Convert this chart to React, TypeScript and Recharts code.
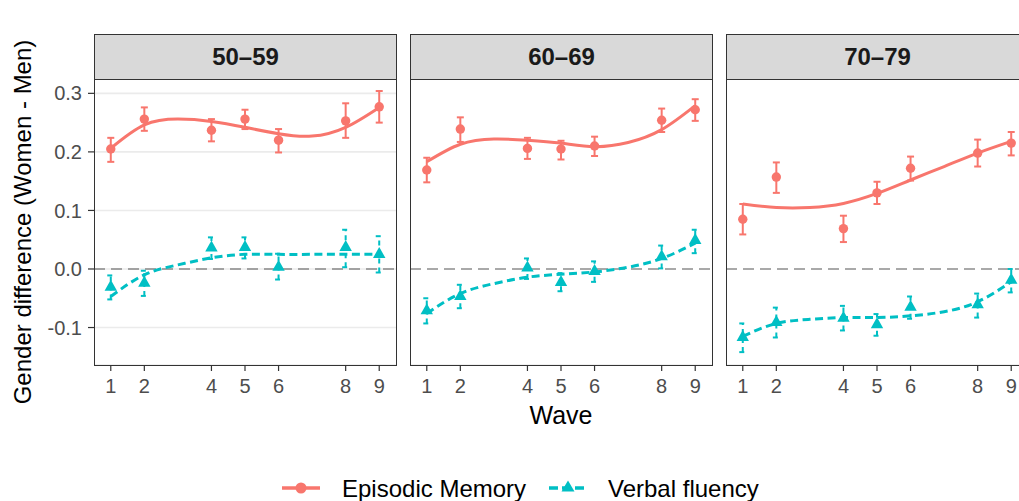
import React from "react";
import {
  ComposedChart,
  Line,
  Scatter,
  ErrorBar,
  XAxis,
  YAxis,
  CartesianGrid,
  ReferenceLine,
} from "recharts";

// ---------- data ----------
const panelLabels = ["50–59", "60–69", "70–79"];
const waves = [1, 2, 4, 5, 6, 8, 9];
const fitWaves = [1, 2, 3, 4, 5, 6, 7, 8, 9];
const yTicks = [-0.1, 0, 0.1, 0.2, 0.3];
const xTicks = [1, 2, 4, 5, 6, 8, 9];

// Episodic Memory, observed estimates and 95% bounds
const em5059 = [0.205, 0.256, 0.237, 0.256, 0.220, 0.253, 0.277];
const em5059Lo = [0.183, 0.236, 0.218, 0.239, 0.199, 0.224, 0.250];
const em5059Hi = [0.224, 0.276, 0.256, 0.272, 0.239, 0.283, 0.304];
const em6069 = [0.169, 0.239, 0.206, 0.205, 0.210, 0.254, 0.272];
const em6069Lo = [0.148, 0.217, 0.188, 0.187, 0.193, 0.234, 0.253];
const em6069Hi = [0.190, 0.259, 0.224, 0.219, 0.226, 0.274, 0.290];
const em7079 = [0.085, 0.157, 0.069, 0.130, 0.172, 0.198, 0.215];
const em7079Lo = [0.059, 0.130, 0.046, 0.111, 0.151, 0.175, 0.194];
const em7079Hi = [0.111, 0.182, 0.091, 0.149, 0.192, 0.221, 0.234];

// Verbal fluency, observed estimates and 95% bounds
const vf5059 = [-0.030, -0.023, 0.037, 0.038, 0.004, 0.038, 0.026];
const vf5059Lo = [-0.052, -0.046, 0.017, 0.018, -0.018, 0.003, -0.006];
const vf5059Hi = [-0.011, -0.003, 0.054, 0.054, 0.026, 0.067, 0.056];
const vf6069 = [-0.070, -0.046, 0.003, -0.022, -0.003, 0.022, 0.050];
const vf6069Lo = [-0.093, -0.067, -0.017, -0.038, -0.022, 0.001, 0.027];
const vf6069Hi = [-0.050, -0.027, 0.018, -0.007, 0.013, 0.040, 0.067];
const vf7079 = [-0.116, -0.090, -0.083, -0.094, -0.064, -0.060, -0.018];
const vf7079Lo = [-0.142, -0.117, -0.105, -0.114, -0.085, -0.083, -0.040];
const vf7079Hi = [-0.093, -0.066, -0.063, -0.077, -0.047, -0.042, 0.000];

// Smoothed trends (read at each wave)
const em5059Fit = [0.206, 0.246, 0.256, 0.252, 0.242, 0.231, 0.227, 0.242, 0.276];
const em6069Fit = [0.183, 0.213, 0.222, 0.220, 0.215, 0.209, 0.216, 0.238, 0.279];
const em7079Fit = [0.111, 0.105, 0.105, 0.112, 0.129, 0.152, 0.175, 0.198, 0.218];
const vf5059Fit = [-0.047, -0.010, 0.007, 0.019, 0.025, 0.025, 0.025, 0.025, 0.025];
const vf6069Fit = [-0.076, -0.042, -0.025, -0.014, -0.009, -0.005, 0.003, 0.018, 0.044];
const vf7079Fit = [-0.115, -0.093, -0.086, -0.083, -0.083, -0.080, -0.073, -0.056, -0.022];

// ---------- helpers ----------
const EM_COLOR = "#F8766D";
const VF_COLOR = "#00BFC4";
const FONT = "'Liberation Sans', Arial, Helvetica, sans-serif";

const fitRows = (emFit: number[], vfFit: number[]) =>
  fitWaves.map((w, i) => ({ wave: w, emFit: emFit[i], vfFit: vfFit[i] }));

const obsRows = (vals: number[], lo: number[], hi: number[]) =>
  waves.map((w, i) => ({
    wave: w,
    y: vals[i],
    err: [vals[i] - lo[i], hi[i] - vals[i]],
  }));

const panels = [
  {
    label: panelLabels[0],
    fit: fitRows(em5059Fit, vf5059Fit),
    em: obsRows(em5059, em5059Lo, em5059Hi),
    vf: obsRows(vf5059, vf5059Lo, vf5059Hi),
  },
  {
    label: panelLabels[1],
    fit: fitRows(em6069Fit, vf6069Fit),
    em: obsRows(em6069, em6069Lo, em6069Hi),
    vf: obsRows(vf6069, vf6069Lo, vf6069Hi),
  },
  {
    label: panelLabels[2],
    fit: fitRows(em7079Fit, vf7079Fit),
    em: obsRows(em7079, em7079Lo, em7079Hi),
    vf: obsRows(vf7079, vf7079Lo, vf7079Hi),
  },
];

const PLOT_TOP = 79;
const PLOT_BOTTOM = 365;
const CHART_H = 440;
const Y_DOMAIN: [number, number] = [-0.164, 0.3245];
const X_DOMAIN: [number, number] = [0.5, 9.5];

const Circle = (p: any) =>
  p.cx == null ? null : <circle cx={p.cx} cy={p.cy} r={4.7} fill={EM_COLOR} />;

const Triangle = (p: any) =>
  p.cx == null ? null : (
    <polygon
      points={`${p.cx},${p.cy - 6.8} ${p.cx + 6.2},${p.cy + 4.2} ${p.cx - 6.2},${p.cy + 4.2}`}
      fill={VF_COLOR}
    />
  );

type PanelProps = {
  idx: number;
  chartLeft: number;
  plotLeft: number;
  plotRight: number;
};

function Panel({ idx, chartLeft, plotLeft, plotRight }: PanelProps) {
  const p = panels[idx];
  const first = idx === 0;
  const yAxisW = first ? plotLeft - chartLeft : 0;
  const marginLeft = first ? 0 : plotLeft - chartLeft;
  const width = plotRight - chartLeft + 4;
  return (
    <>
      <div
        style={{
          position: "absolute",
          left: chartLeft,
          top: 0,
          width,
          height: CHART_H,
        }}
      >
        <ComposedChart
          width={width}
          height={CHART_H}
          data={p.fit}
          margin={{ top: PLOT_TOP, right: 4, bottom: 0, left: marginLeft }}
        >
          <CartesianGrid
            vertical={false}
            horizontal={true}
            stroke="#EBEBEB"
            strokeWidth={1.6}
          />
          <XAxis
            dataKey="wave"
            type="number"
            domain={X_DOMAIN}
            allowDataOverflow
            ticks={xTicks}
            interval={0}
            height={CHART_H - PLOT_BOTTOM}
            axisLine={false}
            tickLine={{ stroke: "#333333", strokeWidth: 1.2 }}
            tickSize={6}
            tickMargin={8}
            tick={{ fill: "#4D4D4D", fontSize: 20, fontFamily: FONT }}
            label={
              idx === 1
                ? {
                    value: "Wave",
                    position: "insideBottom",
                    offset: 16,
                    style: { fill: "#000", fontSize: 25, fontFamily: FONT },
                  }
                : undefined
            }
          />
          <YAxis
            type="number"
            domain={Y_DOMAIN}
            allowDataOverflow
            ticks={yTicks}
            interval={0}
            width={yAxisW}
            axisLine={false}
            tick={first ? { fill: "#4D4D4D", fontSize: 20, fontFamily: FONT } : false}
            tickLine={first ? { stroke: "#333333", strokeWidth: 1.2 } : false}
            tickSize={6}
            tickMargin={6}
            tickFormatter={(v: number) => v.toFixed(1)}
            label={
              first
                ? {
                    value: "Gender difference (Women - Men)",
                    angle: -90,
                    position: "insideLeft",
                    offset: 22,
                    style: {
                      textAnchor: "middle",
                      fill: "#000",
                      fontSize: 24,
                      fontFamily: FONT,
                    },
                  }
                : undefined
            }
          />
          <ReferenceLine
            y={0}
            stroke="#555555"
            strokeWidth={1.2}
            strokeDasharray="11 6"
          />
          <Line
            dataKey="emFit"
            type="natural"
            stroke={EM_COLOR}
            strokeWidth={3}
            dot={false}
            activeDot={false}
            isAnimationActive={false}
          />
          <Line
            dataKey="vfFit"
            type="natural"
            stroke={VF_COLOR}
            strokeWidth={3}
            strokeDasharray="8 4.5"
            dot={false}
            activeDot={false}
            isAnimationActive={false}
          />
          <Scatter
            data={p.em}
            dataKey="y"
            shape={Circle}
            isAnimationActive={false}
          >
            <ErrorBar
              dataKey="err"
              direction="y"
              width={3.5}
              stroke={EM_COLOR}
              strokeWidth={2}
            />
          </Scatter>
          <Scatter
            data={p.vf}
            dataKey="y"
            shape={Triangle}
            isAnimationActive={false}
          >
            <ErrorBar
              dataKey="err"
              direction="y"
              width={3.5}
              stroke={VF_COLOR}
              strokeWidth={2}
              strokeDasharray="5 4"
            />
          </Scatter>
        </ComposedChart>
      </div>
      {/* panel border */}
      <div
        style={{
          position: "absolute",
          left: plotLeft,
          top: PLOT_TOP,
          width: plotRight - plotLeft + 1,
          height: PLOT_BOTTOM - PLOT_TOP + 1,
          border: "1.3px solid #333333",
          boxSizing: "border-box",
          pointerEvents: "none",
        }}
      />
      {/* strip */}
      <div
        style={{
          position: "absolute",
          left: plotLeft,
          top: 34,
          width: plotRight - plotLeft + 1,
          height: PLOT_TOP - 34 + 1,
          background: "#D9D9D9",
          border: "1.3px solid #333333",
          boxSizing: "border-box",
          display: "flex",
          alignItems: "center",
          justifyContent: "center",
          fontFamily: FONT,
          fontWeight: "bold",
          fontSize: 24,
          color: "#1A1A1A",
        }}
      >
        {p.label}
      </div>
    </>
  );
}

function LegendBox() {
  return (
    <svg
      width={1019}
      height={34}
      style={{ position: "absolute", left: 0, top: 468 }}
    >
      <line x1={282} y1={20} x2={320} y2={20} stroke={EM_COLOR} strokeWidth={3.5} />
      <circle cx={301} cy={20} r={5.5} fill={EM_COLOR} />
      <text x={342} y={29} fontSize={24} fontFamily={FONT} fill="#000">
        Episodic Memory
      </text>
      <line
        x1={549}
        y1={20}
        x2={588}
        y2={20}
        stroke={VF_COLOR}
        strokeWidth={3.5}
        strokeDasharray="9 4"
      />
      <polygon points="568,12.5 574.5,23.5 561.5,23.5" fill={VF_COLOR} />
      <text x={608} y={29} fontSize={24} fontFamily={FONT} fill="#000">
        Verbal fluency
      </text>
    </svg>
  );
}

export default function App() {
  return (
    <div
      style={{
        position: "fixed",
        left: 0,
        top: 0,
        width: 1019,
        height: 501,
        overflow: "hidden",
        background: "#fff",
        fontFamily: FONT,
      }}
    >
      <Panel idx={0} chartLeft={0} plotLeft={94} plotRight={396} />
      <Panel idx={1} chartLeft={398} plotLeft={410} plotRight={712} />
      <Panel idx={2} chartLeft={714} plotLeft={726} plotRight={1028} />
      <LegendBox />
    </div>
  );
}
